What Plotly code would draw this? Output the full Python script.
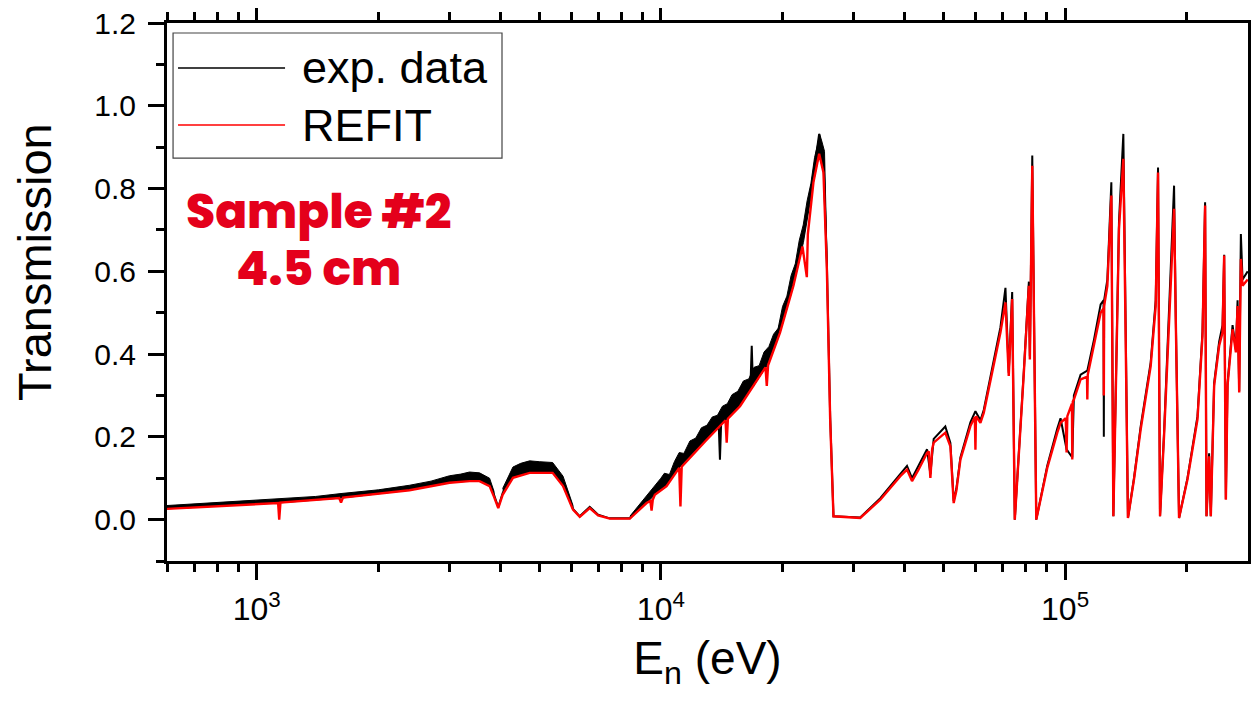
import math
import plotly.graph_objects as go

# ---------------- data ----------------
refit_energy = [600, 855, 1124, 1130, 1137, 1145, 1600, 1617, 1635, 2388, 3000, 3362, 3559, 3769,
                3866, 3960, 4060, 4305, 4735, 5398, 5727, 6062, 6300, 6668, 6994, 7474, 8379,
                9217, 9420, 9484, 9550, 9663, 10330, 11100, 11180, 11260, 12900, 14450, 14549,
                14650, 15697, 18150, 18281, 18420, 19714, 21277, 22400, 22966, 23100, 23848,
                24637, 25247, 25744, 26232, 26730, 30549, 31131, 34902, 39115, 40637, 41816,
                43353, 45554, 46000, 46425, 46900, 47309, 50549, 52030, 53020, 53840, 55083,
                58317, 59800, 60008, 60200, 61744, 62918, 66613, 69196, 71200, 72557, 73977,
                75093, 79069, 81361, 81830, 82952, 84865, 90345, 95656, 97455, 100400, 100860,
                101300, 104000, 104190, 104500, 105150, 109240, 113300, 113510, 113800, 117900,
                122460, 124500, 124700, 124900, 127230, 130160, 131660, 135940, 139370, 143080,
                148070, 153830, 162860, 167570, 169820, 171750, 175740, 180830, 186060, 187860,
                191410, 200800, 212600, 218780, 222030, 223820, 227170, 229380, 233760, 240530,
                245230, 247500, 249900, 252330, 259640, 264590, 267160, 269650, 272210, 274850,
                283000]
refit_trans = [0.026, 0.034, 0.040, 0.040, 0.000, 0.041, 0.052, 0.041, 0.053, 0.071, 0.089, 0.093,
               0.093, 0.081, 0.055, 0.028, 0.060, 0.101, 0.113, 0.113, 0.081, 0.024, 0.0065, 0.028,
               0.010, 0.0024, 0.0024, 0.040, 0.045, 0.022, 0.048, 0.060, 0.081, 0.125, 0.032, 0.128,
               0.190, 0.240, 0.186, 0.244, 0.274, 0.368, 0.323, 0.373, 0.452, 0.565, 0.660, 0.586,
               0.690, 0.815, 0.884, 0.839, 0.605, 0.242, 0.008, 0.004, 0.004, 0.048, 0.105, 0.121,
               0.093, 0.120, 0.161, 0.165, 0.101, 0.170, 0.186, 0.210, 0.177, 0.040, 0.070, 0.145,
               0.226, 0.248, 0.169, 0.250, 0.234, 0.258, 0.371, 0.452, 0.525, 0.347, 0.533, 0.000,
               0.355, 0.565, 0.387, 0.855, 0.000, 0.125, 0.210, 0.234, 0.245, 0.162, 0.250, 0.280,
               0.145, 0.285, 0.290, 0.339, 0.345, 0.290, 0.350, 0.420, 0.500, 0.510, 0.300, 0.516,
               0.565, 0.783, 0.008, 0.702, 0.872, 0.004, 0.097, 0.218, 0.371, 0.516, 0.839, 0.008,
               0.202, 0.484, 0.751, 0.484, 0.004, 0.097, 0.242, 0.444, 0.759, 0.008, 0.153, 0.008,
               0.323, 0.420, 0.452, 0.638, 0.048, 0.323, 0.460, 0.404, 0.516, 0.307, 0.630, 0.565,
               0.580]

exp_energy = [600, 855, 1124, 1617, 2388, 3000, 3362, 3559, 3769, 3866, 3960, 4060, 4305, 4735,
              5398, 5727, 6062, 6300, 6668, 6994, 7474, 8379, 9217, 9663, 10100, 10330, 10500,
              11146, 12983, 13900, 14000, 14100, 14549, 15697, 16650, 16780, 16900, 18281, 19714,
              21277, 22527, 23848, 24637, 25247, 25744, 26232, 26730, 30549, 31131, 34902, 39115,
              40637, 41816, 43353, 45554, 46425, 47309, 50549, 52030, 53020, 53840, 55083, 58317,
              60008, 61744, 62918, 66613, 69196, 71200, 72557, 73977, 75093, 79069, 81361, 81830,
              82952, 84865, 90345, 95656, 97455, 100860, 104190, 105150, 109240, 113510, 117900,
              122460, 124500, 124700, 124900, 127230, 130160, 131660, 135940, 139370, 143080,
              148070, 153830, 162860, 167570, 169820, 171750, 175740, 180830, 186060, 187860,
              191410, 200800, 212600, 218780, 222030, 223820, 227170, 229380, 233760, 240530,
              245230, 247500, 249900, 252330, 259640, 264590, 267160, 269650, 272210, 274850,
              283000]
exp_trans = [0.028, 0.036, 0.043, 0.055, 0.075, 0.094, 0.100, 0.100, 0.088, 0.060, 0.030, 0.064,
             0.108, 0.122, 0.122, 0.090, 0.026, 0.008, 0.031, 0.012, 0.003, 0.003, 0.045, 0.068,
             0.090, 0.088, 0.100, 0.138, 0.210, 0.232, 0.145, 0.236, 0.258, 0.290, 0.318, 0.420,
             0.322, 0.385, 0.470, 0.585, 0.690, 0.835, 0.932, 0.870, 0.620, 0.250, 0.008, 0.004,
             0.005, 0.052, 0.112, 0.130, 0.100, 0.128, 0.170, 0.110, 0.195, 0.225, 0.185, 0.045,
             0.075, 0.150, 0.235, 0.262, 0.240, 0.265, 0.380, 0.465, 0.560, 0.355, 0.550, 0.000,
             0.360, 0.575, 0.395, 0.880, 0.000, 0.130, 0.220, 0.245, 0.170, 0.150, 0.300, 0.350,
             0.360, 0.435, 0.520, 0.530, 0.200, 0.530, 0.580, 0.815, 0.008, 0.720, 0.932, 0.004,
             0.100, 0.225, 0.380, 0.530, 0.851, 0.008, 0.210, 0.495, 0.807, 0.490, 0.004, 0.100,
             0.250, 0.455, 0.767, 0.008, 0.160, 0.008, 0.330, 0.430, 0.470, 0.640, 0.050, 0.330,
             0.470, 0.410, 0.530, 0.310, 0.690, 0.580, 0.600]

# noise spread of the experimental data: upper edge and lower edge of the black band
noise1_top_energy = [600, 855, 1124, 1400, 1617, 2000, 2388, 2700, 3000, 3200, 3362, 3559, 3769, 3866]
noise1_top = [0.034, 0.043, 0.050, 0.056, 0.063, 0.072, 0.083, 0.093, 0.106, 0.110, 0.115, 0.113,
              0.100, 0.068]
noise1_bottom_energy = [600, 855, 1124, 1617, 2388, 3000, 3362, 3559, 3769, 3866]
noise1_bottom = [0.026, 0.034, 0.040, 0.052, 0.071, 0.089, 0.093, 0.093, 0.081, 0.055]
noise2_top_energy = [4060, 4305, 4500, 4735, 5000, 5398, 5727, 6062]
noise2_top = [0.075, 0.127, 0.136, 0.142, 0.140, 0.138, 0.105, 0.034]
noise2_bottom_energy = [4060, 4305, 4735, 5398, 5727, 6062]
noise2_bottom = [0.060, 0.101, 0.113, 0.113, 0.081, 0.024]
noise3_top_energy = [8379, 9000, 9400, 9700, 10000, 10200, 10500, 10800, 11100, 11400, 11800,
                     12200, 12600, 13000, 13400, 13800, 14200, 14600, 15000, 15500, 16000, 16500,
                     17000, 17500, 18000, 18500, 19000, 19500, 20000, 20500, 21000, 21500, 22000,
                     22500, 23000, 23500, 24000, 24400, 24700, 25000, 25400, 25744]
noise3_top = [0.008, 0.045, 0.068, 0.082, 0.100, 0.112, 0.109, 0.140, 0.162, 0.160, 0.190, 0.197,
              0.222, 0.228, 0.248, 0.252, 0.274, 0.280, 0.302, 0.310, 0.335, 0.340, 0.368, 0.372,
              0.405, 0.418, 0.448, 0.462, 0.515, 0.540, 0.590, 0.618, 0.675, 0.712, 0.770, 0.812,
              0.875, 0.905, 0.932, 0.915, 0.890, 0.650]
noise3_bottom_energy = [8379, 9217, 9663, 10330, 11146, 12983, 14549, 15697, 18281, 19714, 21277,
                        22527, 23848, 24637, 25247, 25744]
noise3_bottom = [0.0024, 0.040, 0.060, 0.081, 0.127, 0.194, 0.242, 0.274, 0.371, 0.452, 0.565,
                 0.670, 0.815, 0.884, 0.839, 0.605]

x_major_ticks = [1e3, 1e4, 1e5]
x_major_labels = ["10<sup>3</sup>", "10<sup>4</sup>", "10<sup>5</sup>"]
x_minor_ticks = [600, 700, 800, 900, 2000, 3000, 4000, 5000, 6000, 7000, 8000, 9000,
                 20000, 30000, 40000, 50000, 60000, 70000, 80000, 90000, 200000]
y_major_ticks = [0.0, 0.2, 0.4, 0.6, 0.8, 1.0, 1.2]
y_minor_ticks = [-0.1, 0.1, 0.3, 0.5, 0.7, 0.9, 1.1]
x_range = [600, 283500]
y_range = [-0.1, 1.2]

legend_labels = ["exp. data", "REFIT"]
sample_lines = ["Sample #2", "4.5 cm"]
x_title = "E<sub>n</sub> (eV)"
y_title = "Transmission"

# ---------------- figure ----------------
BASE_FONT = "Arial, 'Liberation Sans', sans-serif"
RED = "#ff0000"
TEXT_RED = "#e4001b"

# closed polygons for the noise band
band_x, band_y = [], []
for te, tv, be, bv in [(noise1_top_energy, noise1_top, noise1_bottom_energy, noise1_bottom),
                       (noise2_top_energy, noise2_top, noise2_bottom_energy, noise2_bottom),
                       (noise3_top_energy, noise3_top, noise3_bottom_energy, noise3_bottom)]:
    band_x += list(te) + list(reversed(be)) + [None]
    band_y += list(tv) + list(reversed(bv)) + [None]

fig = go.Figure()
fig.add_trace(go.Scatter(x=band_x, y=band_y, mode="lines", fill="toself",
                         fillcolor="black", line=dict(color="black", width=1),
                         showlegend=False, hoverinfo="skip"))
fig.add_trace(go.Scatter(x=exp_energy, y=exp_trans, mode="lines", name=legend_labels[0],
                         line=dict(color="black", width=2), showlegend=False))
fig.add_trace(go.Scatter(x=refit_energy, y=refit_trans, mode="lines", name=legend_labels[1],
                         line=dict(color=RED, width=2.4), showlegend=False))

axis_common = dict(showline=True, linecolor="black", linewidth=3, mirror="ticks",
                   ticks="outside", ticklen=16, tickwidth=2.5, tickcolor="black",
                   showgrid=False, zeroline=False, automargin=False,
                   ticklabeloverflow="allow")

fig.update_xaxes(type="log", range=[math.log10(x_range[0]), math.log10(x_range[1])],
                 tickvals=x_major_ticks, ticktext=x_major_labels,
                 tickfont=dict(family=BASE_FONT, size=32, color="black"),
                 ticklabelstandoff=2,
                 minor=dict(tickvals=x_minor_ticks, ticks="outside", ticklen=8, tickwidth=2.5,
                            tickcolor="black", showgrid=False),
                 title=dict(text=x_title, standoff=16,
                            font=dict(family=BASE_FONT, size=46, color="black")),
                 **axis_common)
fig.update_yaxes(range=y_range, tickvals=y_major_ticks,
                 ticktext=[f"{v:.1f}" for v in y_major_ticks],
                 tickfont=dict(family=BASE_FONT, size=30, color="black"),
                 ticklabelstandoff=6,
                 minor=dict(tickvals=y_minor_ticks, ticks="outside", ticklen=8, tickwidth=2.5,
                            tickcolor="black", showgrid=False),
                 **axis_common)

# y-axis title (placed slightly above centre, as in the reference)
fig.add_annotation(xref="paper", yref="paper", x=-0.122, y=0.556, xanchor="center",
                   yanchor="middle", text=y_title, textangle=-90, showarrow=False,
                   font=dict(family=BASE_FONT, size=47, color="black"))

# hand-drawn legend box (long line samples as in the reference)
fig.add_shape(type="rect", xref="paper", yref="paper", x0=0.0056, x1=0.3099, y0=0.749, y1=0.9814,
              line=dict(color="#444444", width=1.2), fillcolor="white", layer="above")
for yy, col, lab in [(0.9164, "black", legend_labels[0]), (0.8104, RED, legend_labels[1])]:
    fig.add_shape(type="line", xref="paper", yref="paper", x0=0.0102, x1=0.1092, y0=yy, y1=yy,
                  line=dict(color=col, width=1.5), layer="above")
    fig.add_annotation(xref="paper", yref="paper", x=0.123, y=yy, xanchor="left",
                       yanchor="middle", text=lab, showarrow=False,
                       font=dict(family=BASE_FONT, size=45, color="black"))

for yy, txt in [(0.6487, sample_lines[0]), (0.5428, sample_lines[1])]:
    fig.add_annotation(xref="paper", yref="paper", x=0.1406, y=yy, xanchor="center",
                       yanchor="middle", text=txt, showarrow=False,
                       font=dict(family="Poppins, 'Open Sans', sans-serif", size=47,
                                 color=TEXT_RED, weight=800))

# the page body adds an 8 px offset, so the figure is 8 px smaller on each side
fig.update_layout(width=1251, height=693, autosize=False,
                  margin=dict(l=159, r=11, t=15, b=140),
                  paper_bgcolor="white", plot_bgcolor="white",
                  font=dict(family=BASE_FONT, color="black"),
                  showlegend=False)

fig.write_html("out.html")
